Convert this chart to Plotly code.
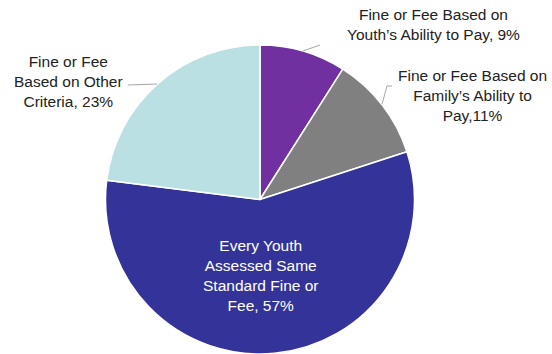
import plotly.graph_objects as go

categories = [
    "Fine or Fee Based on<br>Youth’s Ability to Pay",
    "Fine or Fee Based on<br>Family’s Ability to<br>Pay",
    "Every Youth<br>Assessed Same<br>Standard Fine or<br>Fee",
    "Fine or Fee<br>Based on Other<br>Criteria",
]
values = [9, 11, 57, 23]
separators = [", ", ",", ", ", ", "]
colors = ["#7030A0", "#808080", "#333399", "#BBE0E3"]

W, H = 552, 354

fig = go.Figure(go.Pie(
    labels=categories,
    values=values,
    sort=False,
    direction="clockwise",
    rotation=0,
    marker=dict(colors=colors, line=dict(color="white", width=1.5)),
    textinfo="none",
    hoverinfo="skip",
    showlegend=False,
    domain=dict(x=[105 / W, 415 / W], y=[0, (H - 45) / H]),
))

# label placement (pixel centres) and text colours
label_pos = [(433, 24), (472, 95), (260, 275), (68, 81)]
label_col = ["#222222", "#222222", "white", "#222222"]

annotations = []
for cat, v, sep, (px, py), col in zip(categories, values, separators, label_pos, label_col):
    annotations.append(dict(
        text=f"{cat}{sep}{v}%",
        x=px / W, y=1 - py / H, xref="paper", yref="paper",
        xanchor="center", yanchor="middle", showarrow=False,
        font=dict(family="Liberation Sans, Arial", size=15.5, color=col),
        align="center",
    ))

leaders = [
    [(303, 51), (320, 45)],
    [(382, 104), (387, 86), (392, 86)],
    [(157, 84), (128, 85)],
]
shapes = []
for pts in leaders:
    for (x0, y0), (x1, y1) in zip(pts[:-1], pts[1:]):
        shapes.append(dict(
            type="line", xref="paper", yref="paper",
            x0=x0 / W, y0=1 - y0 / H, x1=x1 / W, y1=1 - y1 / H,
            line=dict(color="#A6A6A6", width=1),
        ))

fig.update_layout(
    width=W, height=H,
    margin=dict(l=0, r=0, t=0, b=0),
    paper_bgcolor="white",
    plot_bgcolor="white",
    annotations=annotations,
    shapes=shapes,
)

fig.write_html(
    "out.html",
    config={"displayModeBar": False},
    post_script="document.body.style.margin='0';document.body.style.overflow='hidden';",
)
